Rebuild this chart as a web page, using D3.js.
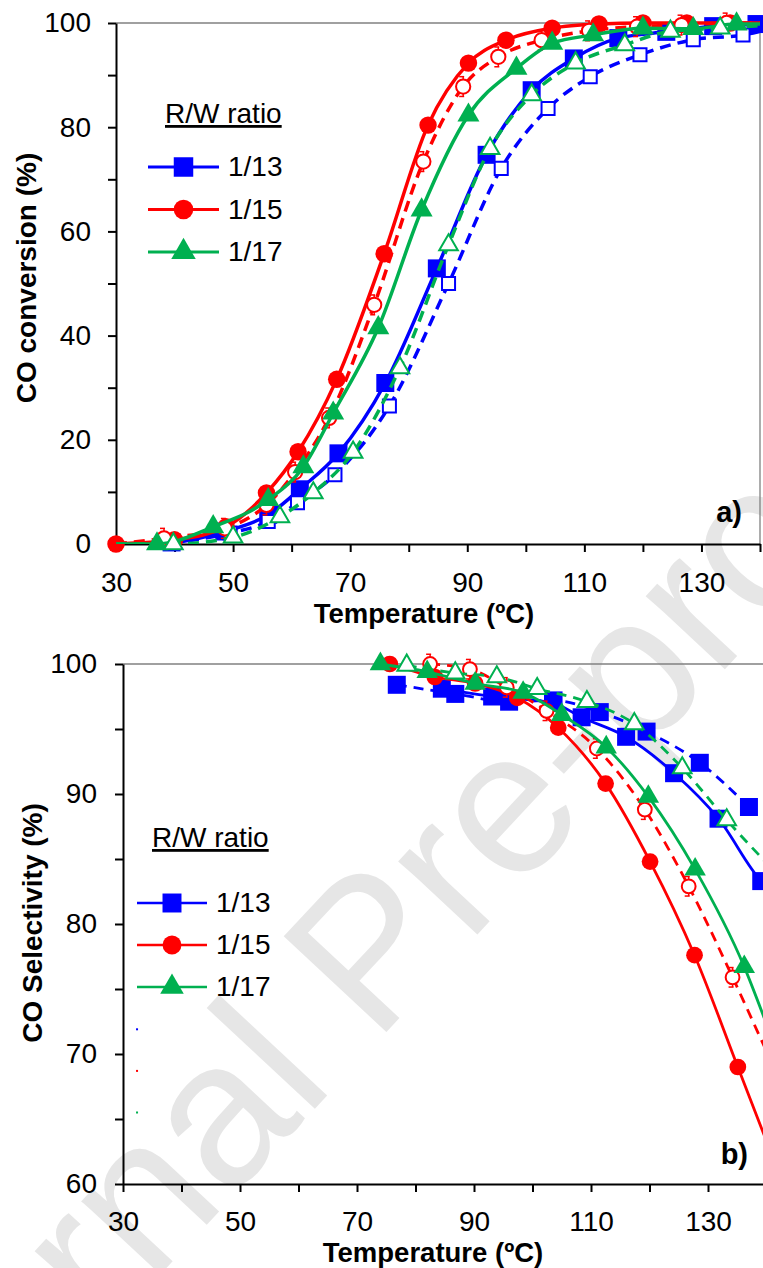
<!DOCTYPE html>
<html>
<head>
<meta charset="utf-8">
<script src="https://cdn.jsdelivr.net/npm/d3@7"></script>
<style>
    body { margin: 0; background: #fff; }
    svg { display: block; }
    text { font-family: "Liberation Sans", Arial, sans-serif; }
</style>
</head>
<body>
<svg id="chart" width="763" height="1268"></svg>
<script>
//legend labels and series colours
const ratios = ['1/13', '1/15', '1/17'];
const colors = ['#0000ff', '#ff0000', '#00b050'];

//panel a) CO conversion (%) vs temperature (ºC)
const convBlueT = [39.5, 48.5, 56, 61.4, 68, 76, 84.8, 93.3, 101, 108.2, 115.8, 124, 132, 139.4];
const convBlue = [0.3, 2.4, 5.6, 10.5, 17.4, 30.9, 52.9, 74.7, 87.1, 93.2, 97.1, 98.3, 99.4, 99.8];
const convBlueOpenT = [38.9, 49.5, 56, 61, 67.4, 76.7, 86.8, 95.8, 103.8, 111, 119.5, 128.6, 137.1];
const convBlueOpen = [0.3, 2.1, 4.3, 7.9, 13.3, 26.5, 50.0, 72.1, 83.6, 89.7, 93.9, 96.8, 97.7];
const convRedT = [30, 40, 48.8, 55.7, 61.1, 67.7, 75.8, 83.3, 90.2, 96.6, 104.5, 112.5, 120, 127.5, 134.9];
const convRed = [0, 0.8, 3.3, 9.8, 17.7, 31.6, 55.7, 80.4, 92.3, 96.7, 99.0, 99.8, 100, 100, 100];
const convRedOpenT = [38.2, 48.6, 55.7, 60.6, 66.4, 74.1, 82.5, 89.3, 95.3, 102.7, 110.8, 119, 126.6, 134.3];
const convRedOpen = [1.1, 3.0, 7.5, 13.8, 24.2, 45.9, 73.4, 87.8, 93.5, 96.7, 98.5, 99.3, 99.6, 100];
const convGreenT = [37, 46.6, 56, 62, 67.1, 74.8, 82.2, 90.2, 98.4, 104.5, 111.5, 120, 128.6, 136];
const convGreen = [0, 3.3, 8.5, 14.8, 25.1, 41.5, 64.1, 82.3, 91.3, 96.1, 97.7, 99.0, 98.9, 99.8];
const convGreenOpenT = [39.8, 50, 58, 63.7, 70.5, 78.5, 86.8, 93.9, 101, 108.5, 116.9, 124.7, 133.2];
const convGreenOpen = [0, 1.3, 5.2, 9.8, 17.6, 33.8, 57.4, 75.9, 86.2, 92.3, 95.8, 98.4, 99.0];
//where the fitted lines start and end
const convLineStart = [30, 0];
const convLineEnd = [99.9, 98.4, 100, 100, 99.8, 99.5]; //value at 140 ºC
const convRedOpenErr = 1.9;

//panel b) CO selectivity (%) vs temperature (ºC)
const selBlueT = [84.5, 93.1, 103.5, 108.4, 116, 124.2, 131.8, 139.1];
const selBlue = [98.1, 97.5, 97.0, 95.9, 94.4, 91.6, 88.1, 83.3];
const selBlueOpenT = [76.8, 86.8, 96, 103.6, 111.5, 119.5, 128.6, 137];
const selBlueOpen = [98.4, 97.7, 97.1, 97.2, 96.3, 94.8, 92.4, 89.0];
const selRedT = [75.6, 83.3, 90.2, 97.4, 104.4, 112.5, 120.1, 127.7, 135.1];
const selRed = [100, 99.0, 98.5, 97.4, 95.1, 90.8, 84.8, 77.6, 69.0];
const selRedOpenT = [82.5, 89.3, 95.6, 102.4, 111, 119.2, 126.7, 134.2];
const selRedOpen = [100, 99.6, 98.2, 96.4, 93.5, 88.8, 82.9, 75.9];
const selGreenT = [74, 82, 90.2, 98.4, 105, 112.6, 119.8, 127.8, 136.2];
const selGreen = [100, 99.4, 98.5, 97.8, 96.1, 93.6, 89.8, 84.2, 76.7];
const selGreenOpenT = [78.5, 86.8, 93.9, 100.8, 109.3, 117.4, 125.6, 133.2];
const selGreenOpen = [99.9, 99.3, 99.0, 98.1, 97.1, 95.4, 92.0, 88.0];
const selLineEnd = [82.9, null, 63.3, 70.2, 72.3, 84.7]; //value at 140 ºC, null = stops at last point
const selRedOpenErr = 0.75;
//stray legend dots left in panel b
const selStrayT = [32.4, 32.4, 32.4];
const selStray = [71.9, 68.7, 65.5];

const svg = d3.select('#chart');

//watermark behind everything
svg.append('text')
    .attr('transform', 'translate(-120,1575) rotate(-47)')
    .attr('font-size', 204)
    .attr('fill', '#e6e6e6')
    .text('Journal Pre-proof');

function zip(ts, vs) {
    return ts.map((t, i) => [t, vs[i]]);
}

//one panel of the figure
function drawPanel(p) {
    const x = d3.scaleLinear().domain([30, 140]).range([p.left, p.right]);
    const y = d3.scaleLinear().domain(p.yDomain).range([p.bottom, p.top]);

    const g = svg.append('g');

    //grey frame on top and right
    g.append('line')
        .attr('x1', p.left).attr('x2', x(140))
        .attr('y1', p.top).attr('y2', p.top)
        .attr('stroke', '#808080').attr('stroke-width', 1.3);
    g.append('line')
        .attr('x1', x(140)).attr('x2', x(140))
        .attr('y1', p.top).attr('y2', p.bottom)
        .attr('stroke', '#808080').attr('stroke-width', 1.3);

    //y axis
    const yAxis = g.append('g')
        .attr('transform', 'translate(' + p.left + ',0)')
        .call(d3.axisLeft(y)
            .tickValues(d3.range(p.yDomain[0], p.yDomain[1] + 0.1, p.yStep))
            .tickFormat(d => (d - p.yDomain[0]) % p.yLabelStep === 0 ? d : '')
            .tickSize(8).tickSizeOuter(0).tickPadding(p.yPad));
    //x axis
    const xAxis = g.append('g')
        .attr('transform', 'translate(0,' + p.bottom + ')')
        .call(d3.axisBottom(x)
            .tickValues(d3.range(30, 141, 10))
            .tickFormat(d => (d - 30) % 20 === 0 ? d : '')
            .tickSize(8).tickSizeOuter(0).tickPadding(p.xPad));
    [yAxis, xAxis].forEach(a => {
        a.select('.domain').attr('stroke', '#000').attr('stroke-width', 2);
        a.selectAll('.tick line').attr('stroke', '#000').attr('stroke-width', 2);
        a.selectAll('.tick text')
            .attr('fill', '#000')
            .attr('font-size', 28)
            .style('font-family', '"Liberation Sans", Arial, sans-serif');
    });

    //axis titles
    g.append('text')
        .attr('transform', 'translate(' + p.yTitleX + ',' + p.yTitleY + ') rotate(-90)')
        .attr('text-anchor', 'middle')
        .attr('font-size', 28).attr('font-weight', 'bold')
        .text(p.yTitle);
    g.append('text')
        .attr('x', p.xTitleX).attr('y', p.xTitleY)
        .attr('text-anchor', 'middle')
        .attr('font-size', 27.5).attr('font-weight', 'bold')
        .text('Temperature (ºC)');

    //panel letter
    g.append('text')
        .attr('x', p.letterX).attr('y', p.letterY)
        .attr('text-anchor', 'end')
        .attr('font-size', 29).attr('font-weight', 'bold')
        .text(p.letter);

    //clip for the lines
    const clipId = 'clip-' + p.letter.charAt(0);
    svg.append('clipPath').attr('id', clipId)
        .append('rect')
        .attr('x', p.left).attr('y', p.top - 3)
        .attr('width', x(140) - p.left + 2).attr('height', p.bottom - p.top + 3);

    const line = d3.line()
        .x(d => x(d[0]))
        .y(d => y(d[1]))
        .curve(d3.curveMonotoneX);

    p.series.forEach((s, i) => {
        const pts = zip(s.t, s.v);
        let linePts = pts.slice();
        if (p.lineStart) linePts.unshift(p.lineStart);
        if (p.lineEnd[i] !== null) linePts.push([140, p.lineEnd[i]]);

        g.append('path')
            .attr('d', line(linePts))
            .attr('clip-path', 'url(#' + clipId + ')')
            .attr('fill', 'none')
            .attr('stroke', colors[s.c])
            .attr('stroke-width', p.lineWidth)
            .attr('stroke-dasharray', s.dash ? p.dash : null);

        //small error bars on the open circles
        if (s.err) {
            const eg = g.append('g').attr('stroke', colors[s.c]).attr('stroke-width', 1.5);
            pts.forEach(d => {
                const cx = x(d[0]);
                const lo = Math.max(d[1] - s.err, p.yDomain[0]);
                eg.append('line')
                    .attr('x1', cx).attr('x2', cx)
                    .attr('y1', y(lo)).attr('y2', y(d[1] + s.err));
                [lo, d[1] + s.err].forEach(e => {
                    eg.append('line')
                        .attr('x1', cx - 4).attr('x2', cx + 1)
                        .attr('y1', y(e)).attr('y2', y(e));
                });
            });
        }

        const sym = d3.symbol().type(s.shape).size(s.size);
        g.selectAll(null)
            .data(pts)
            .enter().append('path')
            .attr('transform', d => 'translate(' + x(d[0]) + ',' + y(d[1]) + ')')
            .attr('d', sym)
            .attr('fill', s.open ? '#fff' : colors[s.c])
            .attr('stroke', s.open ? colors[s.c] : 'none')
            .attr('stroke-width', 2);
    });

    //legend
    g.append('text')
        .attr('x', p.legX).attr('y', p.legTitleY)
        .attr('font-size', 28)
        .attr('text-decoration', 'underline')
        .text('R/W ratio');
    ratios.forEach((r, i) => {
        const ly = p.legY + i * p.legGap;
        g.append('line')
            .attr('x1', p.legLine[0]).attr('x2', p.legLine[1])
            .attr('y1', ly).attr('y2', ly)
            .attr('stroke', colors[i]).attr('stroke-width', p.legWidth);
        const sym = d3.symbol().type(p.legShapes[i]).size(p.legSizes[i]);
        g.append('path')
            .attr('transform', 'translate(' + (p.legLine[0] + p.legLine[1]) / 2 + ',' + ly + ')')
            .attr('d', sym)
            .attr('fill', colors[i]);
        g.append('text')
            .attr('x', p.legLine[1] + 9).attr('y', ly + 9)
            .attr('font-size', 28)
            .text(r);
    });

    return { x, y, g };
}

const shapes = [d3.symbolSquare, d3.symbolCircle, d3.symbolTriangle];

drawPanel({
    letter: 'a)', letterX: 742, letterY: 522,
    left: 116, right: 760, top: 23, bottom: 544,
    yDomain: [0, 100], yStep: 10, yLabelStep: 20, yPad: 17, xPad: 20,
    yTitle: 'CO conversion (%)', yTitleX: 36, yTitleY: 278,
    xTitleX: 424, xTitleY: 623,
    lineWidth: 3.5, dash: '11,7',
    lineStart: convLineStart, lineEnd: convLineEnd,
    legX: 165, legTitleY: 123, legY: 167, legGap: 42.5,
    legLine: [148, 219], legWidth: 3.2,
    legShapes: shapes, legSizes: [380, 300, 260],
    series: [
        { t: convBlueT, v: convBlue, c: 0, shape: d3.symbolSquare, size: 324 },
        { t: convBlueOpenT, v: convBlueOpen, c: 0, shape: d3.symbolSquare, size: 170, open: true, dash: true },
        { t: convRedT, v: convRed, c: 1, shape: d3.symbolCircle, size: 240 },
        { t: convRedOpenT, v: convRedOpen, c: 1, shape: d3.symbolCircle, size: 160, open: true, dash: true, err: convRedOpenErr },
        { t: convGreenT, v: convGreen, c: 2, shape: d3.symbolTriangle, size: 210 },
        { t: convGreenOpenT, v: convGreenOpen, c: 2, shape: d3.symbolTriangle, size: 150, open: true, dash: true }
    ]
});

const panelB = drawPanel({
    letter: 'b)', letterX: 748, letterY: 1164,
    left: 123, right: 766.5, top: 664, bottom: 1184,
    yDomain: [60, 100], yStep: 5, yLabelStep: 10, yPad: 18, xPad: 19,
    yTitle: 'CO Selectivity (%)', yTitleX: 42, yTitleY: 923,
    xTitleX: 433, xTitleY: 1262,
    lineWidth: 2.8, dash: '10,7',
    lineStart: null, lineEnd: selLineEnd,
    legX: 152, legTitleY: 847, legY: 903, legGap: 42,
    legLine: [137, 207], legWidth: 2.6,
    legShapes: shapes, legSizes: [360, 280, 240],
    series: [
        { t: selBlueT, v: selBlue, c: 0, shape: d3.symbolSquare, size: 324 },
        { t: selBlueOpenT, v: selBlueOpen, c: 0, shape: d3.symbolSquare, size: 324, dash: true },
        { t: selRedT, v: selRed, c: 1, shape: d3.symbolCircle, size: 220 },
        { t: selRedOpenT, v: selRedOpen, c: 1, shape: d3.symbolCircle, size: 150, open: true, dash: true, err: selRedOpenErr },
        { t: selGreenT, v: selGreen, c: 2, shape: d3.symbolTriangle, size: 200 },
        { t: selGreenOpenT, v: selGreenOpen, c: 2, shape: d3.symbolTriangle, size: 150, open: true, dash: true }
    ]
});

//stray dots
panelB.g.selectAll(null)
    .data(zip(selStrayT, selStray))
    .enter().append('rect')
    .attr('x', d => panelB.x(d[0]) - 1)
    .attr('y', d => panelB.y(d[1]) - 1)
    .attr('width', 2).attr('height', 2)
    .attr('fill', (d, i) => colors[i]);
</script>
</body>
</html>
